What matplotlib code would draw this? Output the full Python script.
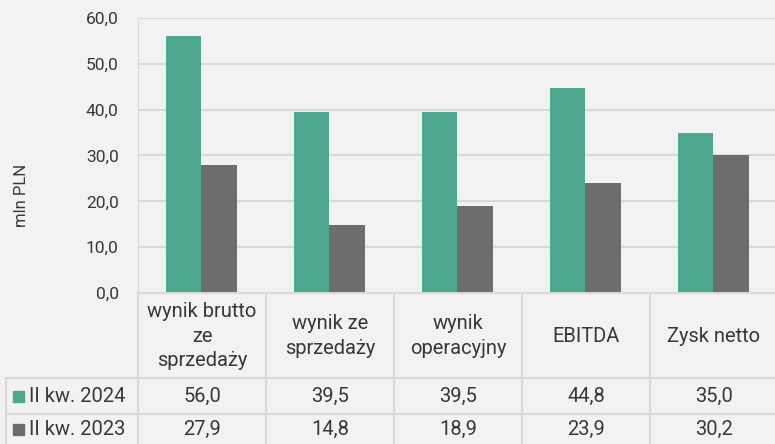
import numpy as np
import matplotlib.pyplot as plt
from matplotlib.patches import Rectangle

categories = ['wynik brutto\nze\nsprzedaży', 'wynik ze\nsprzedaży', 'wynik\noperacyjny', 'EBITDA', 'Zysk netto']
series_names = ['II kw. 2024', 'II kw. 2023']
q2_2024 = [56.0, 39.5, 39.5, 44.8, 35.0]
q2_2023 = [27.9, 14.8, 18.9, 23.9, 30.2]
yticks = [0, 10, 20, 30, 40, 50, 60]

colors = ['#4fa790', '#6d6d6d']
bg = '#f2f2f2'
grid_c = '#d9d9d9'
txt_c = '#383838'

plt.rcParams['font.family'] = ['Roboto', 'DejaVu Sans']

W, H = 775, 444
fig = plt.figure(figsize=(W/100, H/100), dpi=100, facecolor=bg)

def fx(p):
    return p / W

def fy(p):
    return 1 - p / H

# plot area in pixels
x0, x1, ytop, ybot = 138, 775, 18, 293
col_w = 128
ax = fig.add_axes([fx(x0), fy(ybot), fx(x1 - x0), (ybot - ytop) / H])
ax.set_facecolor(bg)
ax.set_xlim(-0.5, -0.5 + (x1 - x0) / col_w)
ax.set_ylim(0, 60)
for s in ax.spines.values():
    s.set_visible(False)

x = np.arange(len(categories))
bw = 0.28
ax.bar(x - bw/2 - 0.005, q2_2024, bw, color=colors[0], zorder=3)
ax.bar(x + bw/2 - 0.005, q2_2023, bw, color=colors[1], zorder=3)

ax.set_yticks(yticks)
ax.set_yticklabels([f'{v:.1f}'.replace('.', ',') for v in yticks], fontsize=12.5, color=txt_c)
ax.tick_params(axis='y', length=0, pad=14)
ax.set_xticks([])
for v in yticks[1:]:
    ax.axhline(v, color=grid_c, lw=1.5, zorder=1)
ax.axvline(-0.5, color=grid_c, lw=1.5, zorder=1)

fig.text(fx(22), fy(195), 'mln PLN', rotation=90, ha='center', va='center', fontsize=12, color=txt_c)

# data table below the axis
lc = dict(color=grid_c, lw=1.5)
tab = fig.add_axes([0, 0, 1, 1], facecolor='none')
tab.set_xlim(0, W)
tab.set_ylim(H, 0)
tab.axis('off')

fs = 14.5
edges = [x0 + i * col_w for i in range(len(categories) + 1)]
tab.plot([x0, W], [ybot, ybot], **lc)
for e in edges:
    tab.plot([e, e], [ybot, H], **lc)
tab.plot([6, 6], [378, H], **lc)
tab.plot([6, W], [378, 378], **lc)
tab.plot([6, W], [414, 414], **lc)

for i, c in enumerate(categories):
    tab.text(x0 + col_w * (i + 0.5), 336, c, ha='center', va='center', fontsize=fs,
             color=txt_c, linespacing=1.38)

row_y = [396, 429]
for r, (name, vals) in enumerate(zip(series_names, [q2_2024, q2_2023])):
    tab.add_patch(Rectangle((13, row_y[r] - 5.5), 11, 11, color=colors[r]))
    tab.text(29, row_y[r], name, ha='left', va='center', fontsize=fs, color=txt_c)
    for i, v in enumerate(vals):
        tab.text(x0 + col_w * (i + 0.5), row_y[r], f'{v:.1f}'.replace('.', ','),
                 ha='center', va='center', fontsize=fs, color=txt_c)

fig.savefig('out.png', dpi=100, facecolor=bg)
